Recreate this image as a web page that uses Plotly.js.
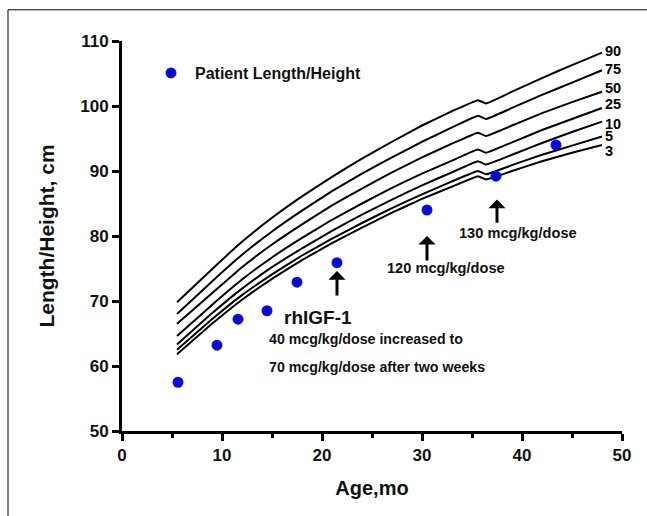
<!DOCTYPE html>
<html>
<head>
<meta charset="utf-8">
<script src="https://cdn.plot.ly/plotly-3.0.1.min.js"></script>
<style>html,body{margin:0;padding:0;background:#fff;}#chart{width:647px;height:516px;}</style>
</head>
<body>
<div id="chart"></div>
<script>
// Reference curve ages (months)
const ages = [5.5, 9, 12, 15, 18, 21, 24, 27, 30, 33, 35.6, 36.4, 39, 42, 45, 48];
// Percentile curves (cm)
const p90 = [69.8, 74.9, 79.1, 82.8, 86.1, 89.1, 91.9, 94.5, 97.0, 99.2, 100.9, 100.4, 102.2, 104.3, 106.3, 108.2];
const p75 = [68.0, 73.0, 77.1, 80.7, 83.9, 86.9, 89.6, 92.1, 94.5, 96.7, 98.5, 98.0, 99.7, 101.7, 103.6, 105.5];
const p50 = [66.5, 71.2, 75.2, 78.7, 81.8, 84.7, 87.3, 89.8, 92.1, 94.2, 95.9, 95.4, 97.0, 98.9, 100.6, 102.2];
const p25 = [64.6, 69.4, 73.3, 76.7, 79.7, 82.5, 85.0, 87.4, 89.6, 91.6, 93.3, 92.8, 94.4, 96.3, 98.0, 99.7];
const p10 = [63.3, 68.1, 71.9, 75.2, 78.1, 80.8, 83.3, 85.6, 87.8, 89.8, 91.5, 91.0, 92.5, 94.3, 96.0, 97.6];
const p5  = [62.5, 67.2, 70.9, 74.1, 77.0, 79.6, 82.0, 84.3, 86.4, 88.4, 90.0, 89.5, 90.9, 92.5, 93.9, 95.3];
const p3  = [61.8, 66.5, 70.2, 73.4, 76.3, 78.9, 81.3, 83.6, 85.7, 87.6, 89.2, 88.7, 90.0, 91.5, 92.8, 94.0];
const percentileNames = ["90", "75", "50", "25", "10", "5", "3"];
const percentileSeries = [p90, p75, p50, p25, p10, p5, p3];

// Patient measurements
const patientAge = [5.6, 9.5, 11.6, 14.5, 17.5, 21.5, 30.5, 37.4, 43.4];
const patientLen = [57.5, 63.2, 67.2, 68.5, 72.9, 75.9, 84.0, 89.2, 94.0];

// Dose-change arrows: age, arrow head, arrow tail
const arrowAge  = [21.5, 30.5, 37.5];
const arrowHead = [74.6, 80.0, 85.6];
const arrowTail = [70.6, 76.0, 81.8];

const font = "Liberation Sans, Arial, sans-serif";

const traces = [];
percentileSeries.forEach((s, i) => {
  traces.push({
    x: ages, y: s, type: "scatter", mode: "lines",
    line: {color: "#000", width: 2, shape: "spline", smoothing: 0.3},
    showlegend: false, hoverinfo: "skip", name: percentileNames[i]
  });
});
traces.push({
  x: patientAge, y: patientLen, type: "scatter", mode: "markers",
  name: "Patient Length/Height",
  marker: {color: "#1010f0", size: 11, line: {width: 0},
           gradient: {type: "radial", color: "#0000b0"}}
});

const labelShift = [2, 1, 4, 4, -2, 1, -6];
const annotations = percentileSeries.map((s, i) => ({
  x: ages[ages.length - 1], y: s[s.length - 1], xref: "x", yref: "y",
  text: percentileNames[i], showarrow: false, xanchor: "left", xshift: 1, yshift: labelShift[i],
  font: {family: font, size: 14.5, color: "#000", weight: "bold"}
}));

arrowAge.forEach((a, i) => {
  annotations.push({
    x: a, y: arrowHead[i], ax: a, ay: arrowTail[i], xref: "x", yref: "y", axref: "x", ayref: "y",
    text: "", showarrow: true, arrowhead: 1, arrowsize: 0.95, arrowwidth: 3, arrowcolor: "#000"
  });
});

const txt = (x, y, t, size, anchor) => ({
  x: x, y: y, xref: "x", yref: "y", text: t, showarrow: false, xanchor: anchor || "left",
  font: {family: font, size: size, color: "#111", weight: "bold"}
});
annotations.push(txt(19.6, 67.4, "rhIGF-1", 19, "center"));
annotations.push(txt(14.5, 64.2, "40 mcg/kg/dose increased to", 14.2));
annotations.push(txt(14.5, 59.9, "70 mcg/kg/dose after two weeks", 14.2));
annotations.push(txt(26.3, 75.1, "120 mcg/kg/dose", 14.6));
annotations.push(txt(33.5, 80.5, "130 mcg/kg/dose", 14.6));

const layout = {
  width: 647, height: 516,
  margin: {l: 122, r: 25, t: 41, b: 85},
  paper_bgcolor: "#fff", plot_bgcolor: "#fff",
  showlegend: true,
  legend: {x: 0.05, y: 0.918, xanchor: "left", yanchor: "middle", bgcolor: "rgba(0,0,0,0)", itemwidth: 38,
           font: {family: font, size: 16, color: "#111", weight: "bold"}},
  xaxis: {
    range: [0, 50], tickvals: [0, 10, 20, 30, 40, 50], showgrid: false, zeroline: false,
    showline: true, linecolor: "#000", linewidth: 3, ticks: "outside", ticklen: 7, tickwidth: 3, tickcolor: "#000",
    minor: {tickvals: [5, 15, 25, 35, 45], ticks: "outside", ticklen: 4, tickwidth: 3, tickcolor: "#000"},
    tickfont: {family: font, size: 17, color: "#111", weight: "bold"},
    title: {text: "Age,mo", font: {family: font, size: 20, color: "#111", weight: "bold"}, standoff: 17}
  },
  yaxis: {
    range: [50, 110], tickvals: [50, 60, 70, 80, 90, 100, 110], showgrid: false, zeroline: false,
    showline: true, linecolor: "#000", linewidth: 3, ticks: "outside", ticklen: 7, tickwidth: 3, tickcolor: "#000",
    tickfont: {family: font, size: 17, color: "#111", weight: "bold"},
    title: {text: "Length/Height, cm", font: {family: font, size: 21, color: "#111", weight: "bold"}, standoff: 20}
  },
  annotations: annotations,
  shapes: [
    {type: "line", xref: "paper", yref: "paper", x0: -0.228, x1: -0.228, y0: -0.3, y1: 1.08, line: {color: "#000", width: 1}},
    {type: "line", xref: "paper", yref: "paper", x0: -0.228, x1: 1.1, y0: 1.08, y1: 1.08, line: {color: "#000", width: 1}}
  ]
};

Plotly.newPlot("chart", traces, layout, {displayModeBar: false, staticPlot: true});
</script>
</body>
</html>
